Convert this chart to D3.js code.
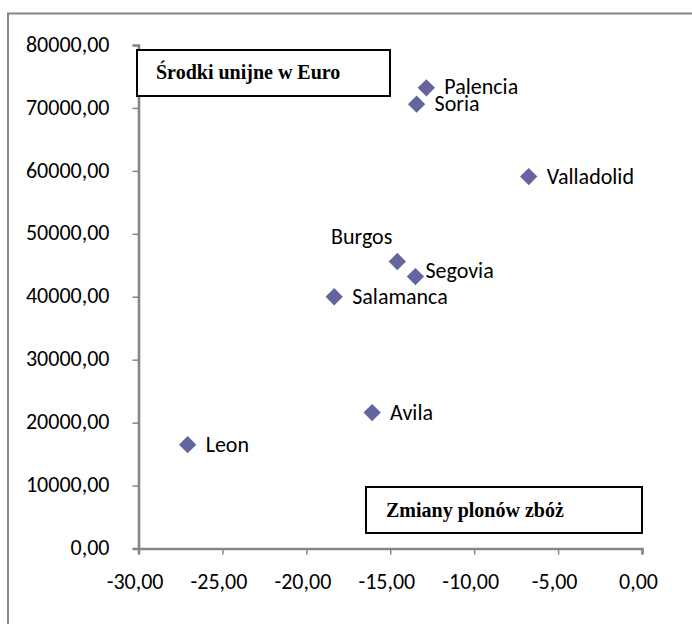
<!DOCTYPE html>
<html>
<head>
<meta charset="utf-8">
<script src="https://cdn.jsdelivr.net/npm/d3@7"></script>
<style>
  html, body { margin: 0; padding: 0; background: #fff; }
  svg { display: block; }
</style>
</head>
<body>
<svg id="chart" width="692" height="624"></svg>
<script>
// ---- data ----
const regions = ["Palencia", "Soria", "Valladolid", "Burgos", "Segovia", "Salamanca", "Avila", "Leon"];
const yieldChange = [-12.85, -13.43, -6.75, -14.58, -13.50, -18.34, -16.08, -27.07];
const euFunds = [73200, 70600, 59100, 45600, 43200, 40000, 21600, 16500];
const xTicks = [-30, -25, -20, -15, -10, -5, 0];
const yTicks = [0, 10000, 20000, 30000, 40000, 50000, 60000, 70000, 80000];
const yTitle = "Środki unijne w Euro";
const xTitle = "Zmiany plonów zbóż";

// ---- layout / style ----
const svg = d3.select("#chart");
const W = 692, H = 624;
const plot = { left: 138.5, right: 642, top: 45, bottom: 548.5 };
const axisColor = "#868686";
const markerColor = "#64649f";
const labelFont = "Carlito, Calibri, 'Open Sans', Lato, sans-serif";
const titleFont = "'Liberation Serif', 'Times New Roman', serif";
const labelSize = "22px";

const locale = d3.formatLocale({ decimal: ",", thousands: "", grouping: [3], currency: ["", ""], minus: "-" });
const fmt = locale.format(".2f");

const x = d3.scaleLinear().domain([-30, 0]).range([plot.left, plot.right]);
const y = d3.scaleLinear().domain([0, 80000]).range([plot.bottom, plot.top]);

// outer chart border (clipped by window at right/bottom)
svg.append("rect")
  .attr("x", 8).attr("y", 13.5)
  .attr("width", W).attr("height", H)
  .attr("fill", "none").attr("stroke", axisColor).attr("stroke-width", 2);

// y axis
const yAxis = svg.append("g")
  .attr("transform", `translate(${plot.left},0)`)
  .call(d3.axisLeft(y).tickValues(yTicks).tickFormat(fmt).tickSize(6).tickPadding(23));
// x axis
const xAxis = svg.append("g")
  .attr("transform", `translate(0,${plot.bottom})`)
  .call(d3.axisBottom(x).tickValues(xTicks).tickFormat(fmt).tickSize(6).tickPadding(19));

[yAxis, xAxis].forEach(g => {
  g.select(".domain").attr("stroke", axisColor).attr("stroke-width", 2.6);
  g.selectAll(".tick line").attr("stroke", axisColor).attr("stroke-width", 1.5);
  g.selectAll(".tick text")
    .attr("fill", "#000")
    .style("font-family", labelFont)
    .style("font-size", labelSize);
});
yAxis.selectAll(".tick text").attr("dy", "0.28em");
xAxis.selectAll(".tick text").attr("dx", "-0.18em");

// title boxes
function titleBox(x0, y0, w, h, text, tx, ty) {
  svg.append("rect")
    .attr("x", x0).attr("y", y0).attr("width", w).attr("height", h)
    .attr("fill", "#fff").attr("stroke", "#000").attr("stroke-width", 2);
  svg.append("text")
    .attr("x", tx).attr("y", ty)
    .style("font-family", titleFont)
    .style("font-weight", "bold")
    .style("font-size", "20px")
    .attr("fill", "#000")
    .text(text);
}
titleBox(137, 50, 253, 46, yTitle, 156, 79);
titleBox(366, 487, 276, 46, xTitle, 386, 517);

// points
const pts = regions.map((r, i) => ({ name: r, x: yieldChange[i], y: euFunds[i] }));
const diamond = d3.symbol(d3.symbolSquare, 150);
svg.append("g").selectAll("path")
  .data(pts).join("path")
  .attr("d", diamond)
  .attr("transform", d => `translate(${x(d.x)},${y(d.y)}) rotate(45)`)
  .attr("fill", markerColor);

// data labels: default to the right of marker; a few placed differently
const labelPlacement = {
  Palencia: { dx: 18, dy: -1, anchor: "start" },
  Burgos: { dx: -5, dy: -25, anchor: "end" },
  Segovia: { dx: 10, dy: -6, anchor: "start" }
};
svg.append("g").selectAll("text")
  .data(pts).join("text")
  .attr("x", d => x(d.x) + (labelPlacement[d.name] ? labelPlacement[d.name].dx : 18))
  .attr("y", d => y(d.y) + (labelPlacement[d.name] ? labelPlacement[d.name].dy : 0))
  .attr("dy", "0.33em")
  .attr("text-anchor", d => labelPlacement[d.name] ? labelPlacement[d.name].anchor : "start")
  .style("font-family", labelFont)
  .style("font-size", labelSize)
  .attr("fill", "#000")
  .text(d => d.name);
</script>
</body>
</html>
